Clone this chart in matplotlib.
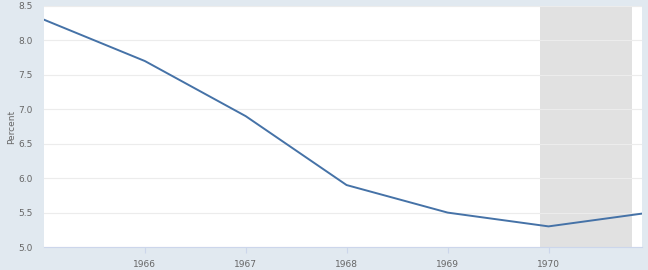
import matplotlib
matplotlib.use("Agg")
import matplotlib.pyplot as plt
import matplotlib.dates as mdates
from datetime import datetime

# annual observations
dates = [datetime(y, 1, 1) for y in range(1965, 1972)]
values = [8.3, 7.7, 6.9, 5.9, 5.5, 5.3, 5.5]

# recession shading
rec_start = datetime(1969, 12, 1)
rec_end = datetime(1970, 11, 1)

yticks = [5.0, 5.5, 6.0, 6.5, 7.0, 7.5, 8.0, 8.5]
xticks = [datetime(y, 1, 1) for y in range(1966, 1971)]

plt.rcParams['font.family'] = ['Liberation Sans Narrow', 'DejaVu Sans']

bg = '#e1e9f0'
fig = plt.figure(figsize=(6.48, 2.7), dpi=100, facecolor=bg)
ax = fig.add_axes([0.068, 0.085, 0.923, 0.893])
ax.set_facecolor('white')

ax.axvspan(rec_start, rec_end, color='#e1e1e1', zorder=0, lw=0)
ax.plot(dates, values, color='#4572a7', lw=1.4, zorder=3)

ax.set_ylim(5.0, 8.5)
ax.set_xlim(datetime(1965, 1, 1), datetime(1970, 12, 6))
ax.set_yticks(yticks)
ax.set_yticklabels([f"{v:.1f}" for v in yticks])
ax.set_xticks(xticks)
ax.xaxis.set_major_formatter(mdates.DateFormatter('%Y'))
ax.grid(axis='y', color='#ececec', lw=0.8, zorder=1)
ax.set_axisbelow(True)

for s in ['top', 'right', 'left']:
    ax.spines[s].set_visible(False)
ax.spines['bottom'].set_color('#ccd6eb')
ax.spines['bottom'].set_linewidth(0.8)

ax.tick_params(axis='y', length=0, labelsize=6.5, colors='#666666', pad=8)
ax.tick_params(axis='x', length=4, color='#ccd6eb', labelsize=6.5, labelcolor='#666666', pad=5)

ax.set_ylabel('Percent', fontsize=6.5, color='#666666')
ax.yaxis.set_label_coords(-0.047, 0.5)

fig.savefig('out.png', dpi=100, facecolor=bg)
